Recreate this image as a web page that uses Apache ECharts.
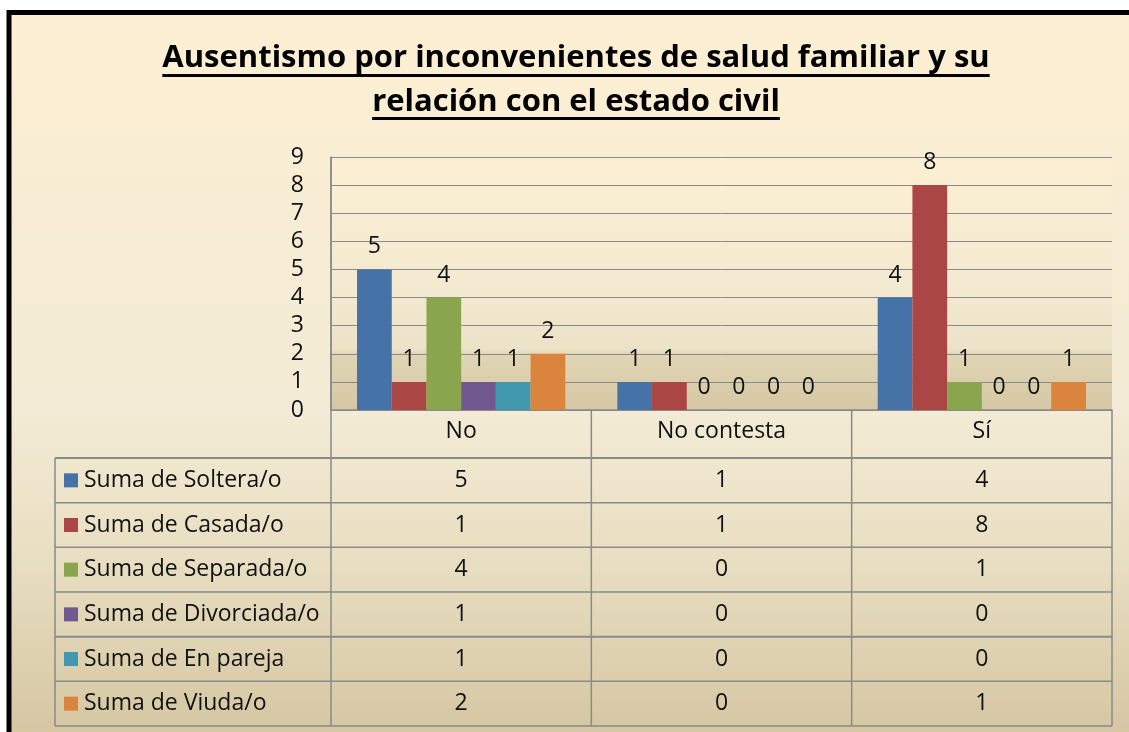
<!DOCTYPE html>
<html>
<head>
<meta charset="utf-8">
<script src="https://cdn.jsdelivr.net/npm/echarts@6/dist/echarts.min.js"></script>
<style>
html,body{margin:0;padding:0;background:#fff;overflow:hidden;}
#chart{width:1129px;height:732px;}
</style>
</head>
<body>
<div id="chart"></div>
<script>
// ---- data ----
const titleLines = ['Ausentismo por inconvenientes de salud familiar y su', 'relación con el estado civil'];
const categories = ['No', 'No contesta', 'Sí'];
const seriesNames = ['Suma de Soltera/o', 'Suma de Casada/o', 'Suma de Separada/o', 'Suma de Divorciada/o', 'Suma de En pareja', 'Suma de Viuda/o'];
const soltera    = [5, 1, 4];
const casada     = [1, 1, 8];
const separada   = [4, 0, 1];
const divorciada = [1, 0, 0];
const enPareja   = [1, 0, 0];
const viuda      = [2, 0, 1];
const seriesValues = [soltera, casada, separada, divorciada, enPareja, viuda];
const colors = ['#4572a7', '#aa4643', '#89a54e', '#71588f', '#4198af', '#db843d'];

// ---- layout / style ----
const W = 1129, H = 732;
const GL = 331, GR = 17, GT = 157, GB = 322;
const plotRight = W - GR, plotBottom = H - GB;
const catRowH = 48, rowH = 44.67, tableLeft = 55;
const FONT = '"Open Sans"';
const FS = 23;
const lineCol = '#8a8a8a';
const textCol = '#111111';

const chart = echarts.init(document.getElementById('chart'), null, {renderer: 'canvas'});

function measure(t, f) {
  const c = document.createElement('canvas').getContext('2d');
  c.font = f; return c.measureText(t).width;
}

const graphics = [];
// outer background with frame
graphics.push({
  type: 'rect', z: -100,
  shape: {x: 9, y: 12.5, width: 1160, height: 760},
  style: {
    fill: new echarts.graphic.LinearGradient(0, 0, 0, 1, [
      {offset: 0, color: '#fdefd3'},
      {offset: 0.52, color: '#f3ebd5'},
      {offset: 0.71, color: '#e9dfc3'},
      {offset: 0.95, color: '#d4c6a1'},
      {offset: 1, color: '#d4c6a1'}
    ]),
    stroke: '#000', lineWidth: 5
  }
});
// title
const titleFont = 'bold 31px ' + FONT;
const titleMid = [58, 102];
const underlineY = [74, 117];
titleLines.forEach((t, i) => {
  graphics.push({
    type: 'text', z: 20,
    style: {text: t, x: 576, y: titleMid[i], align: 'center', verticalAlign: 'middle',
      font: titleFont, fill: '#000'}
  });
  const w = measure(t, titleFont);
  graphics.push({
    type: 'rect', z: 20,
    shape: {x: 576 - w / 2, y: underlineY[i], width: w, height: 3},
    style: {fill: '#000'}
  });
});

// table lines
const colW = (plotRight - GL) / categories.length;
const tableTop = plotBottom + catRowH;
const tableBottom = tableTop + rowH * seriesNames.length;
function hline(y, x1, x2, lw) {
  graphics.push({type: 'line', z: 10, shape: {x1: x1, y1: y, x2: x2, y2: y},
    style: {stroke: lineCol, lineWidth: lw || 1.5}});
}
function vline(x, y1, y2, lw) {
  graphics.push({type: 'line', z: 10, shape: {x1: x, y1: y1, x2: x, y2: y2},
    style: {stroke: lineCol, lineWidth: lw || 1.5}});
}
vline(GL, GT, tableBottom);
for (let i = 1; i <= categories.length; i++) vline(GL + colW * i, plotBottom, tableBottom);
vline(tableLeft, tableTop, tableBottom);
for (let r = 0; r <= seriesNames.length; r++) {
  hline(tableTop + rowH * r, tableLeft, plotRight, (r === 0 || r === 4) ? 2 : 1.5);
}
// table cells
seriesNames.forEach((name, r) => {
  const cy = tableTop + rowH * r + rowH / 2;
  graphics.push({type: 'rect', z: 12, shape: {x: 64, y: cy - 7, width: 14, height: 14},
    style: {fill: colors[r]}});
  graphics.push({type: 'text', z: 12,
    style: {text: name, x: 84, y: cy, align: 'left', verticalAlign: 'middle',
      font: FS + 'px ' + FONT, fill: textCol}});
  seriesValues[r].forEach((v, c) => {
    graphics.push({type: 'text', z: 12,
      style: {text: String(v), x: GL + colW * (c + 0.5), y: cy, align: 'center', verticalAlign: 'middle',
        font: FS + 'px ' + FONT, fill: textCol}});
  });
});

const option = {
  backgroundColor: '#ffffff',
  animation: false,
  grid: {
    left: GL, right: GR, top: GT, bottom: GB, show: true, borderWidth: 0,
    backgroundColor: new echarts.graphic.LinearGradient(0, 0, 0, 1, [
      {offset: 0, color: '#fdefd4'},
      {offset: 0.55, color: '#f2e9d0'},
      {offset: 0.76, color: '#ebe2c7'},
      {offset: 0.78, color: '#e0d5b5'},
      {offset: 1, color: '#d5c7a3'}
    ])
  },
  xAxis: {
    type: 'category', data: categories,
    axisLine: {show: true, lineStyle: {color: lineCol, width: 1.5}},
    axisTick: {show: false},
    axisLabel: {fontFamily: 'Open Sans', fontSize: FS, color: textCol, margin: 10},
    splitLine: {show: false}
  },
  yAxis: {
    type: 'value', min: 0, max: 9, interval: 1,
    axisLine: {show: true, lineStyle: {color: lineCol, width: 1.5}},
    axisTick: {show: false},
    axisLabel: {fontFamily: 'Open Sans', fontSize: FS, color: textCol, margin: 27},
    splitLine: {show: true, lineStyle: {color: lineCol, width: 1}}
  },
  series: seriesNames.map((n, i) => ({
    name: n, type: 'bar', data: seriesValues[i],
    barGap: '0%', barCategoryGap: '20%',
    itemStyle: {color: colors[i]},
    label: {show: true, position: 'top', distance: 11, fontFamily: 'Open Sans', fontSize: FS, color: textCol}
  })),
  graphic: {elements: graphics}
};
chart.setOption(option);
</script>
</body>
</html>
